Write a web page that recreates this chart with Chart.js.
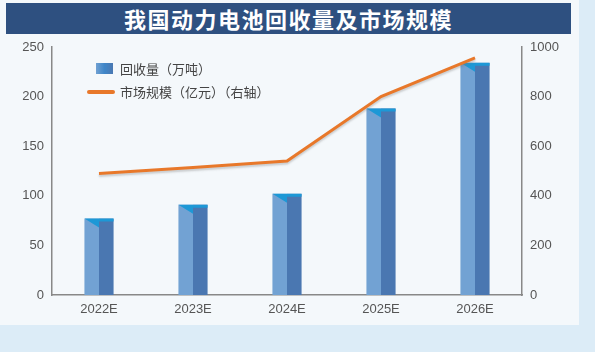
<!DOCTYPE html>
<html>
<head>
<meta charset="utf-8">
<script src="https://cdn.jsdelivr.net/npm/chart.js@4"></script>
<style>
  html, body { margin: 0; padding: 0; }
  body { width: 595px; height: 352px; background: #dcecf7; position: relative; overflow: hidden;
         font-family: "Liberation Sans", "Noto Sans CJK SC", sans-serif; }
  #panel { position: absolute; left: 0; top: 0; width: 579px; height: 325px; background: #f4f8fb; }
  #title { position: absolute; left: 6px; top: 3px; width: 565px; height: 31px; background: #2e5080;
           color: #fff; font: bold 22px "Noto Sans CJK SC", sans-serif; letter-spacing: 1.5px;
           text-align: center; line-height: 31px; }
  #wrap { position: absolute; left: 0; top: 0; width: 595px; height: 352px; }
  .lg { position: absolute; font: 13px "Noto Sans CJK SC", sans-serif; color: #444; line-height: 16px; }
  .sq { position: absolute; left: 96px; top: 63px; width: 17px; height: 11px;
        background: linear-gradient(90deg, #6fa0d2 0%, #3f86c8 50%, #4a78b2 100%); }
  .ln { position: absolute; left: 87px; top: 90px; width: 28px; height: 4px; border-radius: 2px; background: #e8782a; }
</style>
</head>
<body>
<div id="panel"></div>
<div id="title">我国动力电池回收量及市场规模</div>
<div id="wrap"><canvas id="chart" width="595" height="352"></canvas></div>
<div class="sq"></div>
<div class="lg" style="left:120px; top:61px;">回收量（万吨）</div>
<div class="ln"></div>
<div class="lg" style="left:120px; top:84px;">市场规模（亿元）（右轴）</div>
<script>
// 数据
const years = ['2022E', '2023E', '2024E', '2025E', '2026E'];
const recycleVolume = [77, 91, 102, 188, 234];      // 回收量（万吨）
const marketSize = [490, 514, 540, 800, 956];       // 市场规模（亿元）
const leftTicks = [0, 50, 100, 150, 200, 250];
const rightTicks = [0, 200, 400, 600, 800, 1000];

// 立体柱子 + 折线阴影
const barPainter = {
    id: 'barPainter',
    afterDatasetDraw(chart, args) {
        const ctx = chart.ctx;
        if (args.index === 1) {
            ctx.restore();
            return;
        }
        args.meta.data.forEach(function(bar) {
            const x0 = bar.x - bar.width / 2;
            const x1 = bar.x + bar.width / 2;
            const xm = bar.x;
            const top = bar.y;
            const base = bar.base;
            ctx.save();
            ctx.fillStyle = '#72a2d3';
            ctx.fillRect(x0, top, xm - x0, base - top);
            ctx.fillStyle = '#4a77b1';
            ctx.fillRect(xm, top, x1 - xm, base - top);
            ctx.fillStyle = '#1d98d6';
            ctx.beginPath();
            ctx.moveTo(x0, top);
            ctx.lineTo(x1, top);
            ctx.lineTo(x1, top + 3);
            ctx.lineTo(xm, top + 3);
            ctx.lineTo(xm, top + 9);
            ctx.closePath();
            ctx.fill();
            ctx.restore();
        });
    },
    beforeDatasetDraw(chart, args) {
        if (args.index !== 1) return;
        const ctx = chart.ctx;
        ctx.save();
        ctx.shadowColor = 'rgba(120,120,120,0.35)';
        ctx.shadowBlur = 2;
        ctx.shadowOffsetY = 2;
    }
};

const tickFont = { family: '"Liberation Sans", Arial, sans-serif', size: 13 };

new Chart(document.getElementById('chart'), {
    data: {
        labels: years,
        datasets: [{
            type: 'bar',
            label: '回收量（万吨）',
            data: recycleVolume,
            backgroundColor: 'rgba(0,0,0,0)',
            categoryPercentage: 1,
            barPercentage: 0.31,
            yAxisID: 'y',
            order: 1
        }, {
            type: 'line',
            label: '市场规模（亿元）（右轴）',
            data: marketSize,
            borderColor: '#e8782a',
            borderWidth: 3,
            pointRadius: 0,
            tension: 0,
            yAxisID: 'y1',
            order: 0
        }]
    },
    options: {
        responsive: false,
        animation: false,
        layout: { padding: { top: 47, left: 0, right: 0, bottom: 0 } },
        plugins: {
            legend: { display: false },
            tooltip: { enabled: false }
        },
        scales: {
            x: {
                grid: { display: false, drawTicks: false },
                border: { display: true, color: '#888', width: 1.5 },
                ticks: { color: '#555', font: tickFont, padding: 7 },
                afterFit: function(s) { s.height = 57; }
            },
            y: {
                position: 'left',
                min: 0, max: 250,
                afterBuildTicks: function(s) { s.ticks = leftTicks.map(v => ({ value: v })); },
                grid: { display: false, drawTicks: false },
                border: { display: true, color: '#888', width: 1.5 },
                ticks: { color: '#555', font: tickFont, padding: 8, callback: v => String(v) },
                afterFit: function(s) { s.width = 52; }
            },
            y1: {
                position: 'right',
                min: 0, max: 1000,
                afterBuildTicks: function(s) { s.ticks = rightTicks.map(v => ({ value: v })); },
                grid: { display: false, drawTicks: false },
                border: { display: true, color: '#888', width: 1.5 },
                ticks: { color: '#555', font: tickFont, padding: 8, callback: v => String(v) },
                afterFit: function(s) { s.width = 73; }
            }
        }
    },
    plugins: [barPainter]
});
</script>
</body>
</html>
